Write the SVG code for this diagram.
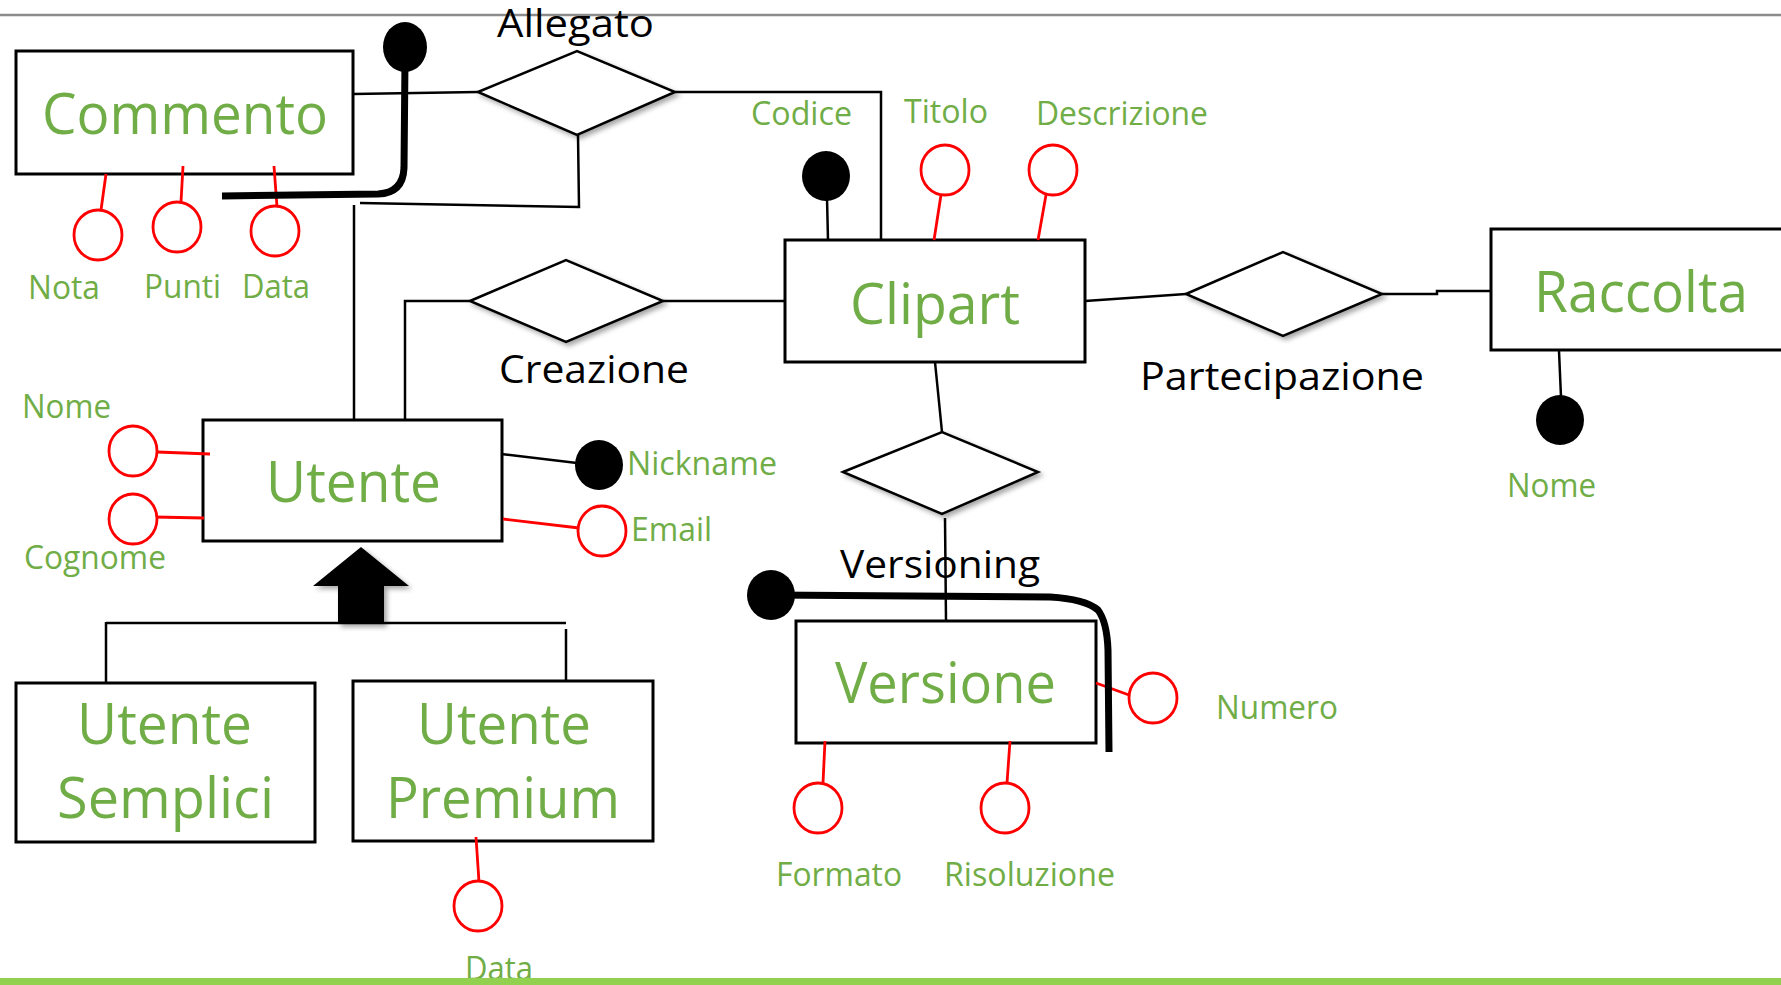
<svg xmlns="http://www.w3.org/2000/svg" width="1781" height="985" viewBox="0 0 1781 985">
<style>
.ent{fill:#fff;stroke:#000;stroke-width:3}
.rel{fill:#fff;stroke:#000;stroke-width:2.5}
.att{fill:#fff;stroke:#f00;stroke-width:2.8}
.key{fill:#000}
.lk{stroke:#000;stroke-width:2.5;fill:none}
.la{stroke:#f00;stroke-width:2.8;fill:none}
.thick{stroke:#000;stroke-width:7;fill:none}
.et{font-family:"Open Sans",sans-serif;fill:#70ad47;font-size:57px}
.at{font-family:"Open Sans",sans-serif;fill:#70ad47;font-size:32px}
.rt{font-family:"Open Sans",sans-serif;fill:#000;font-size:38px}
</style>
<defs>
<filter id="sh" x="-20%" y="-20%" width="150%" height="160%">
<feDropShadow dx="3" dy="3" stdDeviation="2.5" flood-color="#000" flood-opacity="0.35"/>
</filter>
</defs>
<rect width="1781" height="985" fill="#fff"/>
<line x1="0" y1="15" x2="1781" y2="15" stroke="#8c8c8c" stroke-width="2.5"/>

<g id="connectors">
<line class="lk" x1="353" y1="94" x2="478" y2="92"/>
<polyline class="lk" points="675,92 881,92 881,240"/>
<polyline class="lk" points="578,135 579,207 360,203"/>
<line class="lk" x1="354" y1="205" x2="354" y2="420"/>
<line class="lk" x1="663" y1="301" x2="785" y2="301"/>
<polyline class="lk" points="470,301 405,301 405,420"/>
<line class="lk" x1="1085" y1="301" x2="1186" y2="294"/>
<polyline class="lk" points="1382,294 1437,294 1437,291 1491,291"/>
<line class="lk" x1="935" y1="362" x2="942" y2="432"/>
<line class="lk" x1="945" y1="518" x2="946" y2="621"/>
<line class="lk" x1="106" y1="623" x2="566" y2="623"/>
<line class="lk" x1="106" y1="622" x2="106" y2="682"/>
<line class="lk" x1="566" y1="629" x2="566" y2="688"/>
</g>

<g id="allegato">
<polygon class="rel" filter="url(#sh)" points="478,92 577,51 675,92 577,135"/>
<text class="rt" x="497" y="37" textLength="157" lengthAdjust="spacingAndGlyphs">Allegato</text>
</g>
<g id="creazione">
<polygon class="rel" filter="url(#sh)" points="470,301 566,260 663,301 566,342"/>
<text class="rt" x="499" y="383" textLength="190" lengthAdjust="spacingAndGlyphs">Creazione</text>
</g>
<g id="partecipazione">
<polygon class="rel" filter="url(#sh)" points="1186,294 1283,252 1382,294 1283,336"/>
<text class="rt" x="1140" y="390" textLength="284" lengthAdjust="spacingAndGlyphs">Partecipazione</text>
</g>
<g id="versioning">
<polygon class="rel" filter="url(#sh)" points="843,472 942,432 1038,472 942,514"/>
<text class="rt" x="840" y="578" textLength="200" lengthAdjust="spacingAndGlyphs">Versioning</text>
</g>

<g id="commento">
<rect class="ent" x="16" y="51" width="337" height="123"/>
<text class="et" x="42" y="134" textLength="286" lengthAdjust="spacingAndGlyphs">Commento</text>
<line class="la" x1="106" y1="174" x2="101" y2="210"/>
<ellipse class="att" cx="98" cy="235" rx="24" ry="25"/>
<text class="at" x="28" y="299" textLength="72" lengthAdjust="spacingAndGlyphs">Nota</text>
<line class="la" x1="183" y1="166" x2="181" y2="202"/>
<ellipse class="att" cx="177" cy="227" rx="24" ry="25"/>
<text class="at" x="144" y="298" textLength="77" lengthAdjust="spacingAndGlyphs">Punti</text>
<line class="la" x1="274" y1="166" x2="277" y2="207"/>
<ellipse class="att" cx="275" cy="231" rx="24" ry="25"/>
<text class="at" x="242" y="298" textLength="68" lengthAdjust="spacingAndGlyphs">Data</text>
<path class="thick" d="M405,60 L404,168 Q403,193 378,194 L222,196"/>
<ellipse class="key" cx="405" cy="47" rx="22" ry="25"/>
</g>

<g id="clipart">
<rect class="ent" x="785" y="240" width="300" height="122"/>
<text class="et" x="850" y="324" textLength="170" lengthAdjust="spacingAndGlyphs">Clipart</text>
<line class="lk" x1="827" y1="198" x2="828" y2="240"/>
<ellipse class="key" cx="826" cy="176" rx="24" ry="25"/>
<text class="at" x="751" y="125" textLength="101" lengthAdjust="spacingAndGlyphs">Codice</text>
<line class="la" x1="941" y1="195" x2="934" y2="240"/>
<ellipse class="att" cx="945" cy="170" rx="24" ry="25"/>
<text class="at" x="904" y="123" textLength="84" lengthAdjust="spacingAndGlyphs">Titolo</text>
<line class="la" x1="1046" y1="195" x2="1038" y2="240"/>
<ellipse class="att" cx="1053" cy="170" rx="24" ry="25"/>
<text class="at" x="1036" y="125" textLength="172" lengthAdjust="spacingAndGlyphs">Descrizione</text>
</g>

<g id="raccolta">
<rect class="ent" x="1491" y="229" width="310" height="121"/>
<text class="et" x="1534" y="312" textLength="214" lengthAdjust="spacingAndGlyphs">Raccolta</text>
<line class="lk" x1="1559" y1="351" x2="1561" y2="397"/>
<ellipse class="key" cx="1560" cy="420" rx="24" ry="25"/>
<text class="at" x="1507" y="497" textLength="89" lengthAdjust="spacingAndGlyphs">Nome</text>
</g>

<g id="utente">
<rect class="ent" x="203" y="420" width="299" height="121"/>
<text class="et" x="266" y="502" textLength="175" lengthAdjust="spacingAndGlyphs">Utente</text>
<line class="la" x1="157" y1="452" x2="210" y2="454"/>
<ellipse class="att" cx="133" cy="451" rx="24" ry="25"/>
<text class="at" x="22" y="418" textLength="89" lengthAdjust="spacingAndGlyphs">Nome</text>
<line class="la" x1="154" y1="517" x2="204" y2="518"/>
<ellipse class="att" cx="133" cy="519" rx="24" ry="25"/>
<text class="at" x="24" y="569" textLength="142" lengthAdjust="spacingAndGlyphs">Cognome</text>
<line class="lk" x1="501" y1="454" x2="577" y2="463"/>
<ellipse class="key" cx="599" cy="465" rx="24" ry="25"/>
<text class="at" x="627" y="475" textLength="150" lengthAdjust="spacingAndGlyphs">Nickname</text>
<line class="la" x1="503" y1="519" x2="579" y2="528"/>
<ellipse class="att" cx="602" cy="531" rx="24" ry="25"/>
<text class="at" x="631" y="541" textLength="81" lengthAdjust="spacingAndGlyphs">Email</text>
</g>

<g id="isa">
<polygon fill="#000" filter="url(#sh)" points="361,547 409,586 384,586 384,624 338,624 338,586 313,586"/>
</g>

<g id="utente-semplici">
<rect class="ent" x="16" y="683" width="299" height="159"/>
<text class="et" x="77" y="744" textLength="175" lengthAdjust="spacingAndGlyphs">Utente</text>
<text class="et" x="57" y="818" textLength="217" lengthAdjust="spacingAndGlyphs">Semplici</text>
</g>

<g id="utente-premium">
<rect class="ent" x="353" y="681" width="300" height="160"/>
<text class="et" x="417" y="744" textLength="174" lengthAdjust="spacingAndGlyphs">Utente</text>
<text class="et" x="386" y="818" textLength="234" lengthAdjust="spacingAndGlyphs">Premium</text>
<line class="la" x1="476" y1="837" x2="479" y2="882"/>
<ellipse class="att" cx="478" cy="906" rx="24" ry="25"/>
<text class="at" x="465" y="980" textLength="68" lengthAdjust="spacingAndGlyphs">Data</text>
</g>

<g id="versione">
<rect class="ent" x="796" y="621" width="300" height="122"/>
<text class="et" x="835" y="703" textLength="221" lengthAdjust="spacingAndGlyphs">Versione</text>
<line class="la" x1="1096" y1="683" x2="1129" y2="695"/>
<ellipse class="att" cx="1153" cy="698" rx="24" ry="25"/>
<text class="at" x="1216" y="719" textLength="122" lengthAdjust="spacingAndGlyphs">Numero</text>
<line class="la" x1="825" y1="741" x2="823" y2="783"/>
<ellipse class="att" cx="818" cy="808" rx="24" ry="25"/>
<text class="at" x="776" y="886" textLength="126" lengthAdjust="spacingAndGlyphs">Formato</text>
<line class="la" x1="1010" y1="741" x2="1007" y2="783"/>
<ellipse class="att" cx="1005" cy="808" rx="24" ry="25"/>
<text class="at" x="944" y="886" textLength="171" lengthAdjust="spacingAndGlyphs">Risoluzione</text>
<path class="thick" d="M771,595 L1050,597 Q1085,599 1098,610 Q1107,622 1108,650 L1109,752"/>
<ellipse class="key" cx="771" cy="595" rx="24" ry="25"/>
</g>

<rect x="0" y="978" width="1781" height="7" fill="#92d050"/>
</svg>
